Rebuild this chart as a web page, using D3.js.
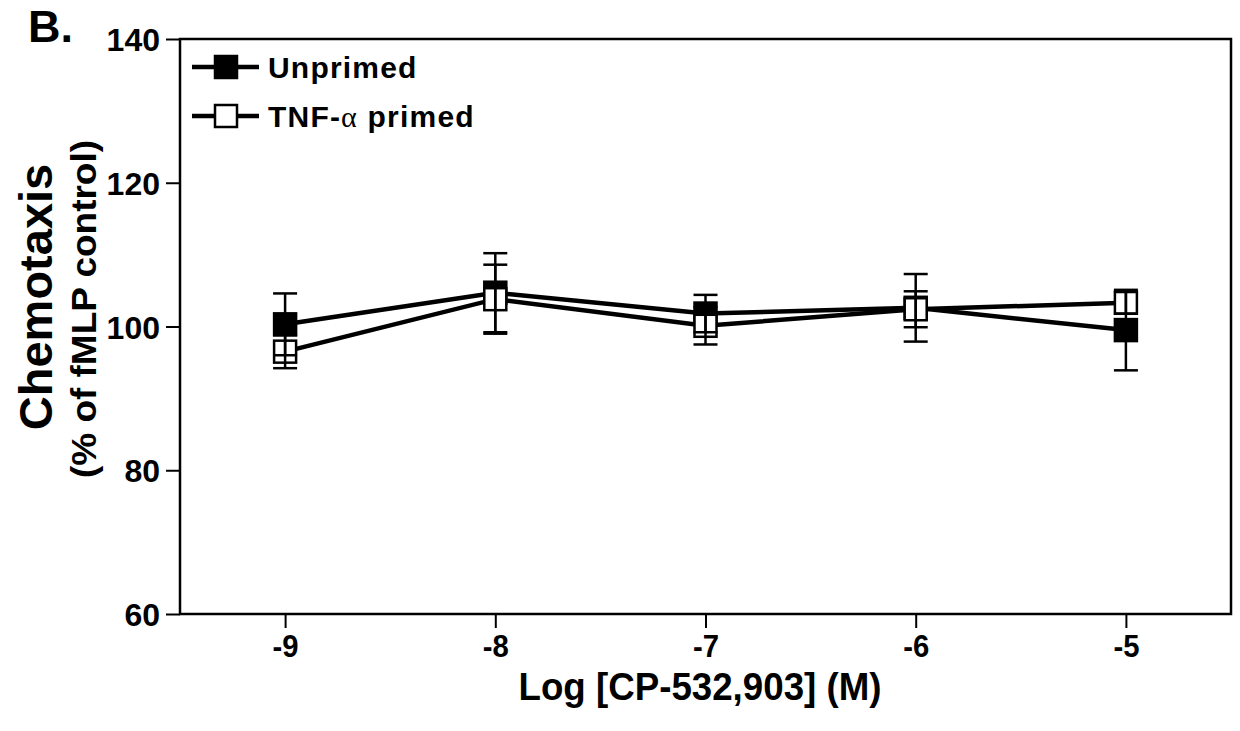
<!DOCTYPE html>
<html>
<head>
<meta charset="utf-8">
<script src="https://cdn.jsdelivr.net/npm/d3@7"></script>
<style>
  html, body { margin: 0; padding: 0; background: #fff; }
  svg { display: block; }
  text { font-family: "Liberation Sans", Arial, sans-serif; font-weight: bold; fill: #000; }
</style>
</head>
<body>
<svg id="chart" width="1240" height="731"></svg>
<script>
// Log concentration of CP-532,903 (M)
const doses = [-9, -8, -7, -6, -5];
// Chemotaxis, % of fMLP control (mean and error)
const unprimedMean = [100.3, 104.7, 101.8, 102.6, 99.5];
const unprimedErr  = [4.3, 5.5, 2.6, 4.7, 5.6];
const tnfMean      = [96.5, 103.8, 100.1, 102.4, 103.3];
const tnfErr       = [2.3, 4.8, 2.6, 2.5, 1.5];
const yTicks = [60, 80, 100, 120, 140];
const xTicks = [-9, -8, -7, -6, -5];

const svg = d3.select("#chart");
const plotL = 180, plotR = 1231, plotT = 39, plotB = 614;

const x = d3.scaleLinear().domain([-9.5, -4.5]).range([plotL, plotR]);
const y = d3.scaleLinear().domain([60, 140]).range([plotB, plotT]);

// frame
svg.append("rect")
  .attr("x", plotL).attr("y", plotT)
  .attr("width", plotR - plotL).attr("height", plotB - plotT)
  .attr("fill", "none").attr("stroke", "#000").attr("stroke-width", 2.5);

// y axis
const yAxis = svg.append("g")
  .attr("transform", `translate(${plotL},0)`)
  .call(d3.axisLeft(y).tickValues(yTicks).tickSize(14).tickPadding(6).tickFormat(d3.format("d")));
yAxis.select(".domain").remove();
yAxis.selectAll("line").attr("stroke", "#000").attr("stroke-width", 2);
yAxis.selectAll("text")
  .attr("font-size", 32).attr("font-family", "Liberation Sans, Arial, sans-serif")
  .attr("font-weight", "bold").attr("dy", "0.36em");

// x axis
const xAxis = svg.append("g")
  .attr("transform", `translate(0,${plotB})`)
  .call(d3.axisBottom(x).tickValues(xTicks).tickSize(14).tickPadding(8).tickFormat(d3.format("d")));
xAxis.select(".domain").remove();
xAxis.selectAll("line").attr("stroke", "#000").attr("stroke-width", 2);
xAxis.selectAll("text")
  .attr("font-size", 32).attr("font-family", "Liberation Sans, Arial, sans-serif")
  .attr("font-weight", "bold").attr("dy", "0.66em")
  .attr("textLength", 26).attr("lengthAdjust", "spacingAndGlyphs")
  .text(d => "-" + Math.abs(d));

// panel letter
svg.append("text").attr("x", 28).attr("y", 42).attr("font-size", 45).text("B.");

// axis titles
svg.append("text")
  .attr("transform", "translate(52,297) rotate(-90)")
  .attr("text-anchor", "middle").attr("font-size", 47)
  .text("Chemotaxis");
svg.append("text")
  .attr("transform", "translate(96,309) rotate(-90)")
  .attr("text-anchor", "middle").attr("font-size", 35)
  .attr("textLength", 338).attr("lengthAdjust", "spacingAndGlyphs")
  .text("(% of fMLP control)");
svg.append("text")
  .attr("x", 700).attr("y", 700)
  .attr("text-anchor", "middle").attr("font-size", 38)
  .attr("textLength", 363).attr("lengthAdjust", "spacingAndGlyphs")
  .text("Log [CP-532,903] (M)");

// series
const series = [
  { name: "Unprimed", mean: unprimedMean, err: unprimedErr, fill: "#000" },
  { name: "TNF", mean: tnfMean, err: tnfErr, fill: "#fff" }
];

const line = d3.line().x(d => x(d.dose)).y(d => y(d.v));
const ms = 22, capW = 24;

series.forEach(s => {
  s.pts = doses.map((d, i) => ({ dose: d, v: s.mean[i], e: s.err[i] }));
});

// connecting lines
series.forEach(s => {
  svg.append("path").datum(s.pts)
    .attr("d", line).attr("fill", "none")
    .attr("stroke", "#000").attr("stroke-width", 4.5);
});

// markers
series.forEach(s => {
  svg.append("g").selectAll("rect").data(s.pts).join("rect")
    .attr("x", d => x(d.dose) - ms / 2)
    .attr("y", d => y(d.v) - ms / 2)
    .attr("width", ms).attr("height", ms)
    .attr("fill", s.fill).attr("stroke", "#000").attr("stroke-width", 2.5);
});

// error bars on top
series.forEach(s => {
  const g = svg.append("g").attr("stroke", "#000").attr("stroke-width", 2.5);
  g.selectAll("line.stem").data(s.pts).join("line").attr("class", "stem")
    .attr("x1", d => x(d.dose)).attr("x2", d => x(d.dose))
    .attr("y1", d => y(d.v + d.e)).attr("y2", d => y(d.v - d.e));
  g.selectAll("line.capTop").data(s.pts).join("line").attr("class", "capTop")
    .attr("x1", d => x(d.dose) - capW / 2).attr("x2", d => x(d.dose) + capW / 2)
    .attr("y1", d => y(d.v + d.e)).attr("y2", d => y(d.v + d.e));
  g.selectAll("line.capBot").data(s.pts).join("line").attr("class", "capBot")
    .attr("x1", d => x(d.dose) - capW / 2).attr("x2", d => x(d.dose) + capW / 2)
    .attr("y1", d => y(d.v - d.e)).attr("y2", d => y(d.v - d.e));
});

// legend
const legend = [
  { label: "Unprimed", fill: "#000", yy: 67 },
  { label: "TNF", fill: "#fff", yy: 116 }
];
legend.forEach(l => {
  svg.append("line").attr("x1", 192).attr("x2", 259)
    .attr("y1", l.yy).attr("y2", l.yy)
    .attr("stroke", "#000").attr("stroke-width", 4.5);
  svg.append("rect").attr("x", 215).attr("y", l.yy - 11)
    .attr("width", 22).attr("height", 22)
    .attr("fill", l.fill).attr("stroke", "#000").attr("stroke-width", 2.5);
});
svg.append("text").attr("x", 268).attr("y", 78).attr("font-size", 30)
  .attr("letter-spacing", 1.2).text("Unprimed");
const t2 = svg.append("text").attr("x", 268).attr("y", 127).attr("font-size", 30)
  .attr("letter-spacing", 1.2);
t2.append("tspan").text("TNF-");
t2.append("tspan").attr("font-family", "Liberation Serif, serif").attr("font-weight", "normal").text("α");
t2.append("tspan").text(" primed");
</script>
</body>
</html>
